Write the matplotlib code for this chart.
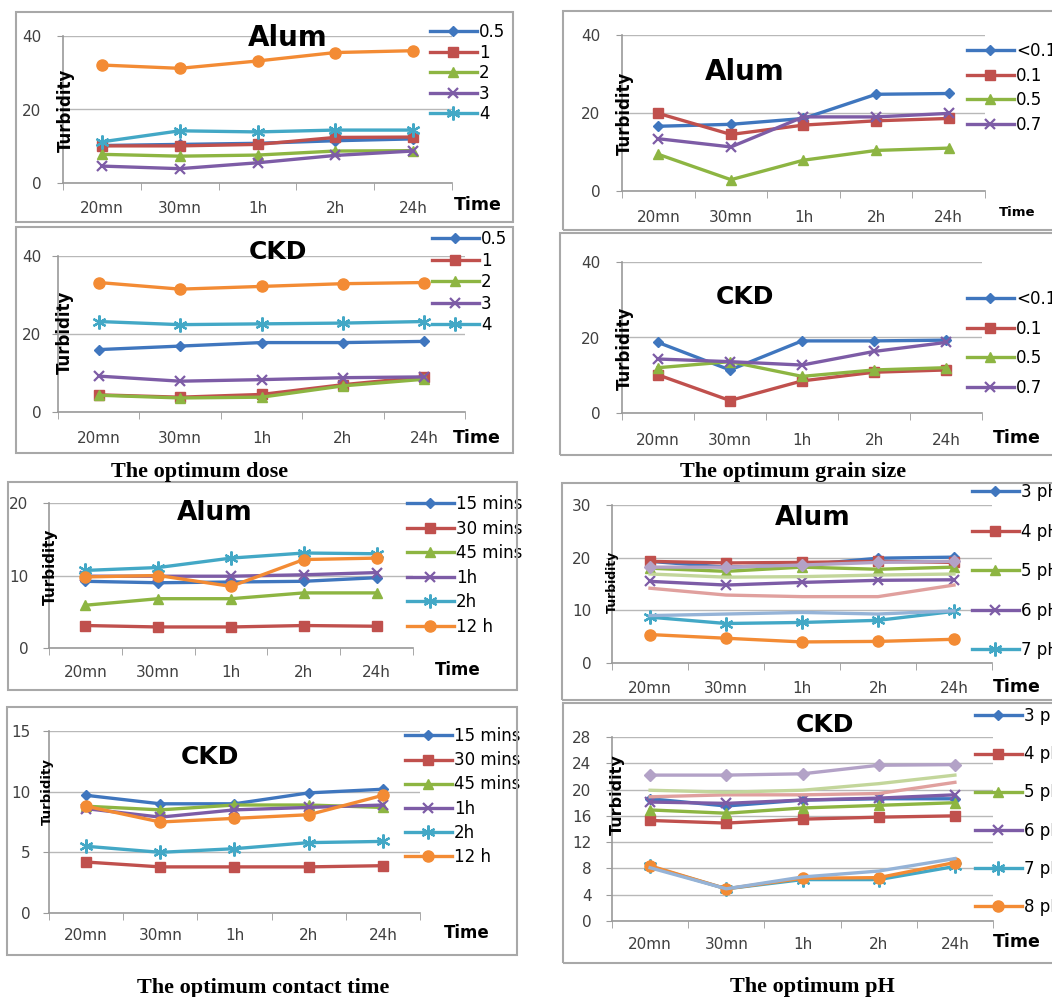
import numpy as np
import matplotlib.pyplot as plt
from matplotlib.patches import Rectangle

W, H = 1052, 997

times = ['20mn', '30mn', '1h', '2h', '24h']

# --- optimum dose (series: 0.5, 1, 2, 3, 4, 5) ---
dose_labels = ['0.5', '1', '2', '3', '4', '_5']
dose_alum = [
    [10.2, 10.5, 10.8, 11.5, 12.0],
    [10.1, 10.1, 10.5, 12.4, 12.5],
    [7.8, 7.3, 7.6, 8.7, 8.8],
    [4.6, 3.9, 5.5, 7.5, 8.7],
    [11.2, 14.2, 13.9, 14.4, 14.4],
    [32.1, 31.2, 33.2, 35.5, 36.0],
]
dose_ckd = [
    [16.0, 16.9, 17.8, 17.8, 18.1],
    [4.4, 3.8, 4.5, 7.0, 9.0],
    [4.3, 3.6, 3.8, 6.7, 8.4],
    [9.2, 7.9, 8.3, 8.8, 9.0],
    [23.2, 22.4, 22.6, 22.8, 23.2],
    [33.2, 31.5, 32.2, 32.9, 33.2],
]

# --- optimum grain size (<0.1, 0.1, 0.5, 0.7) ---
grain_labels = ['<0.1', '0.1', '0.5', '0.7']
grain_alum = [
    [16.6, 17.1, 18.6, 24.8, 25.0],
    [19.9, 14.5, 16.9, 18.0, 18.6],
    [9.4, 2.9, 7.9, 10.4, 11.0],
    [13.4, 11.3, 19.0, 19.0, 19.9],
]
grain_ckd = [
    [18.7, 11.4, 19.1, 19.1, 19.3],
    [10.1, 3.3, 8.5, 10.8, 11.4],
    [12.0, 13.6, 9.7, 11.4, 12.0],
    [14.3, 13.6, 12.7, 16.3, 18.7],
]

# --- optimum contact time ---
contact_labels = ['15 mins', '30 mins', '45 mins', '1h', '2h', '12 h']
contact_alum = [
    [9.2, 9.0, 9.1, 9.2, 9.7],
    [3.1, 2.9, 2.9, 3.1, 3.0],
    [5.9, 6.8, 6.8, 7.6, 7.6],
    [9.9, 9.9, 9.9, 10.1, 10.4],
    [10.7, 11.1, 12.4, 13.1, 13.0],
    [9.8, 10.0, 8.5, 12.2, 12.4],
]
contact_ckd = [
    [9.7, 9.0, 9.0, 9.9, 10.2],
    [4.2, 3.8, 3.8, 3.8, 3.9],
    [8.8, 8.5, 8.9, 8.9, 8.7],
    [8.6, 7.9, 8.5, 8.7, 8.9],
    [5.5, 5.0, 5.3, 5.8, 5.9],
    [8.8, 7.5, 7.8, 8.1, 9.7],
]

# --- optimum pH (3..12 pH) ---
ph_labels = ['3 pH', '4 pH', '5 pH', '6 pH', '7 pH', '8 pH',
             '_9 pH', '_10 pH', '_11 pH', '_12 pH']
# the Alum legend is cut off after 7 pH in the source
ph_alum_labels = ph_labels[:5] + ['_' + s.lstrip('_') for s in ph_labels[5:]]
ph_alum = [
    [19.3, 18.2, 18.6, 19.9, 20.1],
    [19.3, 19.0, 19.1, 19.3, 19.1],
    [18.0, 17.4, 18.2, 17.8, 18.2],
    [15.5, 14.8, 15.3, 15.7, 15.8],
    [8.7, 7.5, 7.7, 8.1, 9.8],
    [5.4, 4.7, 4.0, 4.1, 4.5],
    [9.0, 9.3, 9.6, 9.3, 9.9],
    [14.2, 12.9, 12.6, 12.6, 14.8],
    [16.9, 16.3, 16.4, 16.7, 16.9],
    [18.2, 18.2, 18.6, 19.1, 19.3],
]
ph_ckd = [
    [18.6, 17.5, 18.4, 18.6, 18.6],
    [15.3, 14.9, 15.5, 15.8, 16.0],
    [16.9, 16.4, 17.2, 17.6, 18.0],
    [18.1, 17.9, 18.4, 18.7, 19.2],
    [8.3, 4.9, 6.3, 6.3, 8.3],
    [8.4, 4.9, 6.5, 6.6, 8.9],
    [8.1, 4.9, 6.7, 7.6, 9.5],
    [18.9, 19.2, 19.2, 19.4, 21.1],
    [19.9, 19.6, 19.9, 20.9, 22.2],
    [22.2, 22.2, 22.4, 23.7, 23.8],
]

# colour, marker, marker size
STYLES = [
    ('#3F76BE', 'D', 5),
    ('#C0504D', 's', 7.5),
    ('#8DB542', '^', 7.5),
    ('#7D5CA6', 'x', 7),
    ('#43A8C6', (6, 2, 0), 10),
    ('#F38B34', 'o', 8),
    ('#95B3D7', None, 0),
    ('#E0A09E', None, 0),
    ('#C3D69B', None, 0),
    ('#B3A2C7', 'D', 6),
]
AXC = '#9A9A9A'
GRIDC = '#B8B8B8'
TXT = '#404040'
FS_LEG = 12
FS_PX = FS_LEG * 100 / 72


def draw_panel(fig, box, frame, ylim, yticks, series, labels, title, tpos,
               tsize, lpos, lgap, turb, tbsize, timepos, timesize, xoff, yoff):
    l, t, r, b = box
    ax = fig.add_axes([l / W, 1 - b / H, (r - l) / W, (b - t) / H])
    ax.set_facecolor('none')
    x = np.arange(len(times))
    for vals, lab, (col, mk, ms) in zip(series, labels, STYLES):
        ax.plot(x, vals, color=col, lw=2.4, marker=mk, ms=ms,
                mew=1.6 if mk in ('x', (6, 2, 0)) else 1, label=lab,
                clip_on=False)
    ax.set_xlim(-0.5, len(times) - 0.5)
    ax.set_ylim(*ylim)
    ax.set_yticks(yticks)
    ax.set_xticks(x)
    ax.set_xticklabels(times)
    ax.set_xticks(np.arange(len(times) + 1) - 0.5, minor=True)
    ax.tick_params(axis='x', which='major', length=0,
                   pad=(xoff - 7) * 0.72, labelsize=11, labelcolor=TXT)
    ax.tick_params(axis='x', which='minor', length=5, color=AXC)
    ax.tick_params(axis='y', length=4, color=AXC, pad=(yoff - 4) * 0.72,
                   labelsize=11, labelcolor=TXT)
    ax.grid(axis='y', color=GRIDC, lw=1)
    ax.set_axisbelow(True)
    for s in ('top', 'right'):
        ax.spines[s].set_visible(False)
    for s in ('left', 'bottom'):
        ax.spines[s].set_color(AXC)
        ax.spines[s].set_linewidth(1.2)

    row_h = 1.17 * FS_PX
    lx, ly = lpos
    ax.legend(loc='upper left', bbox_to_anchor=(lx / W, 1 - (ly - row_h / 2) / H),
              bbox_transform=fig.transFigure, frameon=False, fontsize=FS_LEG,
              borderpad=0, borderaxespad=0, handlelength=2.8,
              handletextpad=0.15, numpoints=1,
              labelspacing=max(0, (lgap - row_h) / FS_PX))

    fig.text(tpos[0] / W, 1 - tpos[1] / H, title, fontsize=tsize,
             fontweight='bold', ha='center', va='center')
    fig.text(turb[0] / W, 1 - turb[1] / H, 'Turbidity', fontsize=tbsize,
             fontweight='bold', rotation=90, ha='center', va='center')
    fig.text(timepos[0] / W, 1 - timepos[1] / H, 'Time', fontsize=timesize,
             fontweight='bold', ha='center', va='center')

    fl, ft, fr, fb = frame
    fig.add_artist(Rectangle((fl / W, 1 - fb / H), (fr - fl) / W, (fb - ft) / H,
                             transform=fig.transFigure, fill=False,
                             ec='#A8A8A8', lw=1.5))
    return ax


def caption(fig, x, y, s):
    fig.text(x / W, 1 - y / H, s, fontsize=16, fontweight='bold',
             family='Liberation Serif', ha='center', va='center')


fig = plt.figure(figsize=(W / 100, H / 100), dpi=100)

draw_panel(fig, (63, 36, 452, 183), (16, 12, 513, 222), (0, 40), [0, 20, 40],
           dose_alum, dose_labels, 'Alum', (288, 38), 20, (430, 33), 22,
           (66, 110), 12, (478, 205), 12.5, 25, 20)
draw_panel(fig, (58, 256, 465, 412), (16, 227, 513, 453), (0, 40), [0, 20, 40],
           dose_ckd, dose_labels, 'CKD', (278, 252), 18, (432, 240), 23,
           (65, 332), 12, (477, 438), 12.5, 26, 15)
caption(fig, 200, 472, 'The optimum dose')

draw_panel(fig, (622, 35, 985, 191), (563, 11, 1070, 230), (0, 40), [0, 20, 40],
           grain_alum, grain_labels, 'Alum', (745, 72), 20, (967, 52), 26,
           (625, 113), 12, (1017, 212), 9.5, 26, 20)
draw_panel(fig, (622, 262, 982, 413), (560, 233, 1070, 455), (0, 40), [0, 20, 40],
           grain_ckd, grain_labels, 'CKD', (745, 297), 18, (967, 300), 31,
           (625, 348), 12, (1017, 438), 12.5, 27, 20)
caption(fig, 793, 472, 'The optimum grain size')

draw_panel(fig, (49, 503, 413, 648), (8, 482, 517, 690), (0, 20), [0, 10, 20],
           contact_alum, contact_labels, 'Alum', (215, 513), 19, (407, 505), 26,
           (50, 567), 11, (458, 670), 12, 24, 19)
draw_panel(fig, (612, 505, 992, 663), (562, 483, 1070, 700), (0, 30),
           [0, 10, 20, 30], ph_alum, ph_alum_labels, 'Alum', (813, 518), 19,
           (972, 493), 41, (612, 582), 9, (1017, 687), 12.5, 25, 19)

draw_panel(fig, (49, 731, 420, 913), (7, 707, 517, 955), (0, 15), [0, 5, 10, 15],
           contact_ckd, contact_labels, 'CKD', (210, 757), 18, (405, 737), 25.6,
           (47, 792), 9.5, (467, 933), 12, 22, 17)
caption(fig, 263, 988, 'The optimum contact time')

draw_panel(fig, (612, 737, 993, 921), (563, 703, 1070, 963), (0, 28),
           list(range(0, 29, 4)), ph_ckd, ph_labels, 'CKD', (825, 725), 18,
           (975, 717), 39.6, (617, 795), 11.5, (1017, 942), 12.5, 23, 19)
caption(fig, 812, 987, 'The optimum pH')

fig.savefig('out.png', dpi=100)
